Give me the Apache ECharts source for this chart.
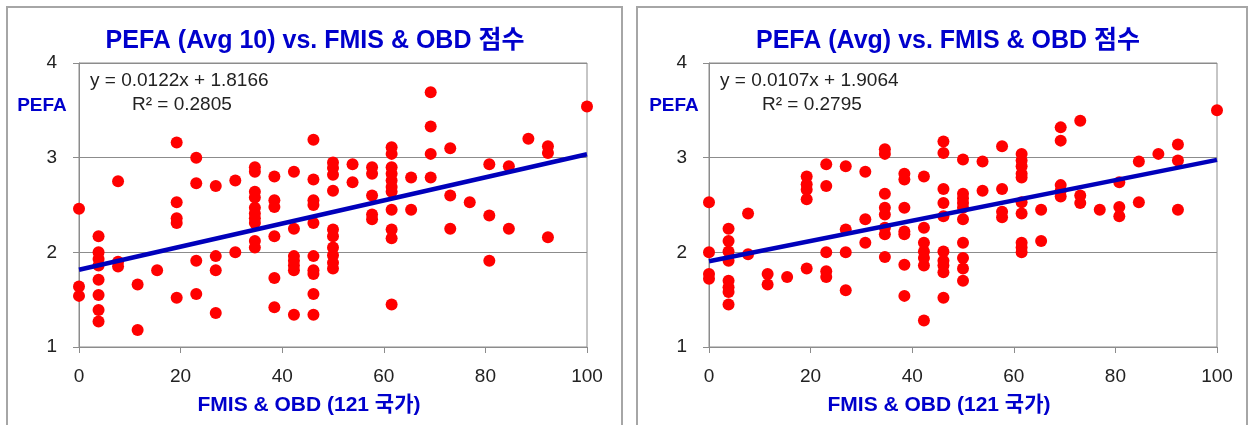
<!DOCTYPE html>
<html>
<head>
<meta charset="utf-8">
<script src="https://cdn.jsdelivr.net/npm/echarts@6/dist/echarts.min.js"></script>
<style>
html,body{margin:0;padding:0;background:#fff;}
#c{width:1251px;height:425px;}
</style>
</head>
<body>
<div id="c"></div>
<script>
// ---- data ----
var xCols = [0, 3.85, 7.69, 11.54, 15.38, 19.23, 23.08, 26.92, 30.77, 34.62, 38.46, 42.31, 46.15, 50, 53.85, 57.69, 61.54, 65.38, 69.23, 73.08, 76.92, 80.77, 84.62, 88.46, 92.31, 100];

var leftCols = [
  [2.46, 1.64, 1.54],
  [2.17, 2.0, 1.93, 1.86, 1.71, 1.55, 1.39, 1.27],
  [2.75, 1.9, 1.85],
  [1.66, 1.18],
  [1.81],
  [3.16, 2.53, 2.36, 2.31, 1.52],
  [3.0, 2.73, 1.91, 1.56],
  [2.70, 1.96, 1.81, 1.36],
  [2.76, 2.0],
  [2.9, 2.85, 2.64, 2.58, 2.47, 2.41, 2.36, 2.31, 2.12, 2.05],
  [2.80, 2.55, 2.48, 2.17, 1.73, 1.42],
  [2.85, 2.25, 1.96, 1.91, 1.86, 1.81, 1.34],
  [3.19, 2.77, 2.55, 2.5, 2.31, 1.96, 1.81, 1.77, 1.56, 1.34],
  [2.95, 2.89, 2.82, 2.65, 2.24, 2.17, 2.05, 1.97, 1.89, 1.83],
  [2.93, 2.74],
  [2.9, 2.83, 2.6, 2.4, 2.35],
  [3.11, 3.04, 2.90, 2.83, 2.76, 2.69, 2.64, 2.45, 2.24, 2.15, 1.45],
  [2.79, 2.45],
  [3.69, 3.33, 3.04, 2.79],
  [3.1, 2.6, 2.25],
  [2.53],
  [2.93, 2.39, 1.91],
  [2.91, 2.25],
  [3.2],
  [3.12, 3.05, 2.16],
  [3.54]
];

var rightCols = [
  [2.53, 2.0, 1.77, 1.72],
  [2.25, 2.12, 2.01, 1.91, 1.70, 1.63, 1.58, 1.45],
  [2.41, 1.98],
  [1.77, 1.66],
  [1.74],
  [2.8, 2.72, 2.66, 2.56, 1.83],
  [2.93, 2.70, 2.0, 1.8, 1.74],
  [2.91, 2.24, 2.0, 1.6],
  [2.85, 2.35, 2.10],
  [3.09, 3.04, 2.62, 2.47, 2.40, 2.26, 2.19, 1.95],
  [2.83, 2.77, 2.47, 2.22, 2.19, 1.87, 1.54],
  [2.8, 2.26, 2.1, 2.01, 1.94, 1.86, 1.28],
  [3.17, 3.05, 2.67, 2.52, 2.38, 2.01, 1.91, 1.86, 1.79, 1.52],
  [2.98, 2.62, 2.57, 2.52, 2.47, 2.35, 2.10, 1.94, 1.83, 1.70],
  [2.96, 2.65],
  [3.12, 2.67, 2.43, 2.37],
  [3.04, 2.97, 2.91, 2.83, 2.79, 2.53, 2.41, 2.10, 2.05, 2.0],
  [2.45, 2.12],
  [3.32, 3.18, 2.71, 2.65, 2.59],
  [3.39, 2.60, 2.52],
  [2.45],
  [2.74, 2.48, 2.38],
  [2.96, 2.53],
  [3.04],
  [3.14, 2.97, 2.45],
  [3.5]
];

var titles = ['PEFA (Avg 10) vs. FMIS & OBD 점수', 'PEFA (Avg) vs. FMIS & OBD 점수'];
var equations = ['y = 0.0122x + 1.8166', 'y = 0.0107x + 1.9064'];
var r2Texts = ['R² = 0.2805', 'R² = 0.2795'];
var slopes = [0.0122, 0.0107];
var intercepts = [1.8166, 1.9064];
var yLabel = 'PEFA';
var xLabel = 'FMIS & OBD (121 국가)';
var xTicks = [0, 20, 40, 60, 80, 100];
var yTicks = [1, 2, 3, 4];

// ---- build ----
function pts(cols) {
  var out = [];
  cols.forEach(function (col, i) {
    col.forEach(function (v) { out.push([xCols[i], v]); });
  });
  return out;
}
function trend(k) {
  return [[xTicks[0], intercepts[k] + slopes[k] * xTicks[0]],
          [xTicks[xTicks.length - 1], intercepts[k] + slopes[k] * xTicks[xTicks.length - 1]]];
}

var FONT = '"Liberation Sans", "Noto Sans CJK KR", sans-serif';
var BLUE = '#0000CC';
var gridLefts = [79, 709];

var grids = [], xAxes = [], yAxes = [], series = [], graphics = [];
[leftCols, rightCols].forEach(function (cols, k) {
  grids.push({left: gridLefts[k], top: 63, width: 508, height: 284,
              show: true, borderColor: '#8c8c8c', borderWidth: 1, backgroundColor: 'transparent'});
  xAxes.push({gridIndex: k, type: 'value', min: 0, max: 100, interval: 20,
    axisLine: {show: true, lineStyle: {color: '#8c8c8c', width: 1}},
    axisTick: {show: true, inside: false, length: 6, lineStyle: {color: '#8c8c8c'}},
    splitLine: {show: false},
    axisLabel: {color: '#222', fontSize: 19, fontFamily: FONT, margin: 20}
  });
  yAxes.push({gridIndex: k, type: 'value', min: 1, max: 4, interval: 1,
    axisLine: {show: true, lineStyle: {color: '#8c8c8c', width: 1}},
    axisTick: {show: true, inside: false, length: 6, lineStyle: {color: '#8c8c8c'}},
    splitLine: {show: true, lineStyle: {color: '#8c8c8c', width: 1}},
    axisLabel: {color: '#222', fontSize: 19, fontFamily: FONT, margin: 22}
  });
  series.push({type: 'scatter', xAxisIndex: k, yAxisIndex: k, data: pts(cols),
    symbol: 'circle', symbolSize: 12, itemStyle: {color: '#FF0000', opacity: 1}, z: 3});
  series.push({type: 'line', xAxisIndex: k, yAxisIndex: k, data: trend(k),
    symbol: 'none', lineStyle: {color: '#0000BB', width: 4.5}, z: 4, silent: true});

  graphics.push({type: 'rect', shape: {x: (k === 0 ? 7 : 637), y: 7, width: (k === 0 ? 615 : 610), height: 440},
    style: {fill: 'none', stroke: '#a6a6a6', lineWidth: 2}, z: -1});
  graphics.push({type: 'text', x: (k === 0 ? 315 : 948), y: 41,
    style: {text: titles[k], fill: BLUE, font: 'bold 25px ' + FONT, textAlign: 'center', textVerticalAlign: 'middle'}});
  graphics.push({type: 'text', x: (k === 0 ? 42 : 674), y: 106,
    style: {text: yLabel, fill: BLUE, font: 'bold 19px ' + FONT, textAlign: 'center', textVerticalAlign: 'middle'}});
  graphics.push({type: 'text', x: (k === 0 ? 309 : 939), y: 405,
    style: {text: xLabel, fill: BLUE, font: 'bold 21px ' + FONT, textAlign: 'center', textVerticalAlign: 'middle'}});
  graphics.push({type: 'text', x: (k === 0 ? 90 : 720), y: 81,
    style: {text: equations[k], fill: '#222', font: '19px ' + FONT, textAlign: 'left', textVerticalAlign: 'middle'}});
  graphics.push({type: 'text', x: (k === 0 ? 132 : 762), y: 105,
    style: {text: r2Texts[k], fill: '#222', font: '19px ' + FONT, textAlign: 'left', textVerticalAlign: 'middle'}});
});

var chart = echarts.init(document.getElementById('c'), null, {renderer: 'canvas'});
chart.setOption({
  animation: false,
  backgroundColor: '#fff',
  grid: grids, xAxis: xAxes, yAxis: yAxes, series: series,
  graphic: graphics
});
</script>
</body>
</html>
